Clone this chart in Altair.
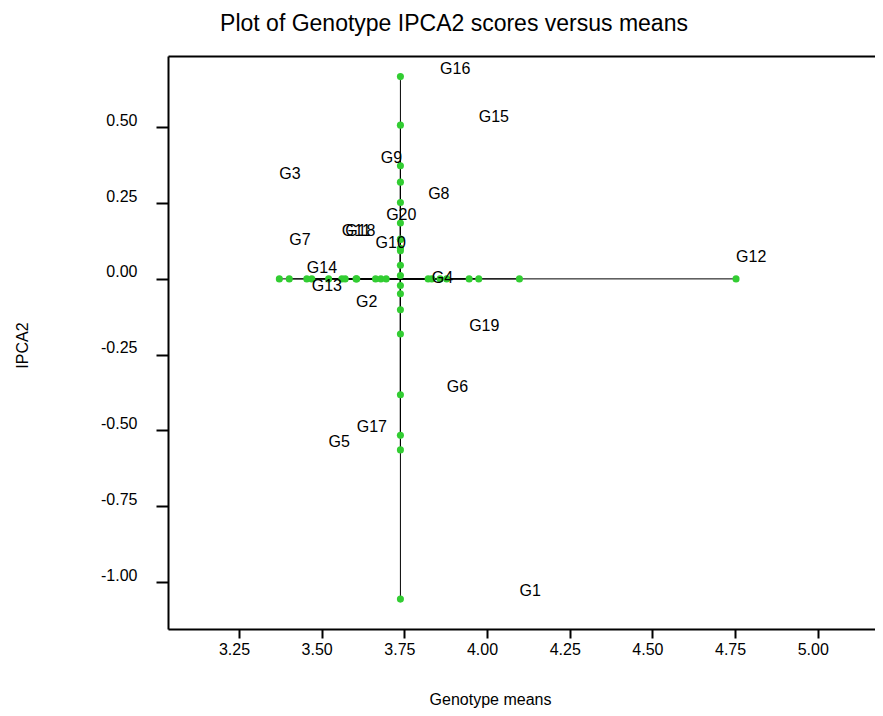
import altair as alt
import pandas as pd

# ---- data ----
genotypes = ["G1", "G2", "G3", "G4", "G5", "G6", "G7", "G8", "G9", "G10",
             "G11", "G12", "G13", "G14", "G15", "G16", "G17", "G18", "G19", "G20"]
means = [4.098, 3.604, 3.372, 3.833, 3.521, 3.878, 3.402, 3.822, 3.679, 3.663,
         3.561, 4.753, 3.470, 3.455, 3.975, 3.858, 3.606, 3.571, 3.946, 3.695]
ipca2 = [-1.056, -0.102, 0.319, -0.022, -0.564, -0.382, 0.101, 0.252, 0.373, 0.093,
         0.131, 0.045, -0.049, 0.011, 0.507, 0.667, -0.516, 0.130, -0.182, 0.184]

x_ticks = [3.25, 3.50, 3.75, 4.00, 4.25, 4.50, 4.75, 5.00]
y_ticks = [-1.00, -0.75, -0.50, -0.25, 0.00, 0.25, 0.50]

df = pd.DataFrame({"genotype": genotypes, "mean": means, "ipca2": ipca2})
df["gm"] = df["mean"].mean()
df["zero"] = 0.0

FONT = "Liberation Sans"
GREEN = "#32CD32"
LABEL_EXPR = ("datum.value < 0 ? '-' + format(-datum.value, '.2f') "
              ": format(datum.value, '.2f')")

xscale = alt.Scale(domain=[3.0353, 5.2004], nice=False, zero=False)
yscale = alt.Scale(domain=[-1.1546, 0.735], nice=False, zero=False)

xaxis = alt.Axis(values=x_ticks, labelExpr=LABEL_EXPR, grid=False,
                 domain=True, domainColor="black", domainWidth=2,
                 tickColor="black", tickWidth=2, tickSize=9,
                 labelFont=FONT, labelFontSize=16, labelColor="black",
                 labelPadding=3, labelOffset=-5,
                 titleFont=FONT, titleFontSize=16, titleFontWeight="normal",
                 titleColor="black", titleX=322, titleY=70,
                 titleBaseline="middle", titleAlign="center")
yaxis = alt.Axis(values=y_ticks, labelExpr=LABEL_EXPR, grid=False,
                 domain=True, domainColor="black", domainWidth=2,
                 tickColor="black", tickWidth=2, tickSize=12,
                 labelFont=FONT, labelFontSize=16, labelColor="black",
                 labelPadding=19, labelOffset=-7,
                 titleFont=FONT, titleFontSize=16, titleFontWeight="normal",
                 titleColor="black", titleX=-146, titleY=289, titleAngle=270,
                 titleBaseline="middle", titleAlign="center")
topaxis = alt.Axis(orient="top", grid=False, labels=False, ticks=False,
                   domain=True, domainColor="black", domainWidth=2)

base = alt.Chart(df)

hrules = base.mark_rule(color="black", strokeWidth=1).encode(
    x=alt.X("gm:Q", scale=xscale, axis=xaxis, title="Genotype means"),
    x2="mean:Q",
    y=alt.Y("zero:Q", scale=yscale, axis=yaxis, title="IPCA2"),
)
vrules = base.mark_rule(color="black", strokeWidth=1).encode(
    x="gm:Q", y="zero:Q", y2="ipca2:Q"
)
hpts = base.mark_circle(color=GREEN, size=50, opacity=1).encode(
    x="mean:Q", y="zero:Q"
)
vpts = base.mark_circle(color=GREEN, size=50, opacity=1).encode(
    x="gm:Q", y="ipca2:Q"
)
labels = base.mark_text(align="left", baseline="alphabetic", dy=-3,
                        font=FONT, fontSize=16, color="black").encode(
    x=alt.X("mean:Q", scale=xscale, axis=topaxis, title=""),
    y="ipca2:Q",
    text="genotype:N",
)

inner = alt.layer(hrules, vrules, hpts, vpts)

chart = alt.layer(inner, labels).resolve_axis(
    x="independent"
).properties(
    width=716,
    height=573,
    autosize="none",
    padding={"left": 160, "top": 48, "right": -9, "bottom": 79},
    title=alt.TitleParams("Plot of Genotype IPCA2 scores versus means",
                          font=FONT, fontSize=23, fontWeight="normal",
                          color="black", anchor="middle", dx=-72, offset=20),
).configure_view(stroke=None)

chart.save("out.html", embed_options={"renderer": "svg", "actions": False})
